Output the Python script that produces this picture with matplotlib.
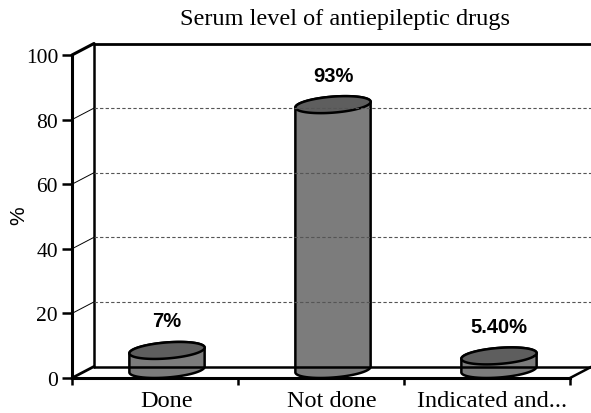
import numpy as np
import matplotlib
matplotlib.use("Agg")
import matplotlib.pyplot as plt
from matplotlib.patches import Polygon

# ---- data ----
categories = ["Done", "Not done", "Indicated and..."]
bar_heights = [5.9, 82.0, 4.2]          # heights as drawn against the y axis
value_labels = ["7%", "93%", "5.40%"]
yticks = [0, 20, 40, 60, 80, 100]
title = "Serum level of antiepileptic drugs"
ylabel = "%"

W, H = 591, 414
fig = plt.figure(figsize=(W / 100, H / 100), dpi=100)
ax = fig.add_axes([72 / W, (H - 379) / H, 498 / W, 323 / H])
ax.set_xlim(0, 3)
ax.set_ylim(0, 100)

XPX = 498 / 3.0      # px per category
YPX = 323 / 100.0    # px per y unit
DX = 22 / XPX        # depth offset
DY = 11.5 / YPX

# spines / ticks
for s in ("top", "right"):
    ax.spines[s].set_visible(False)
ax.spines["left"].set_linewidth(2.2)
ax.spines["bottom"].set_linewidth(2.2)
ax.set_yticks(yticks)
ax.set_yticklabels([str(v) for v in yticks], fontsize=15.5, family="Liberation Serif")
ax.tick_params(axis="y", direction="out", length=7, width=1.8, pad=3)
ax.set_xticks([0, 1, 2, 3])
ax.set_xticklabels([])
ax.tick_params(axis="x", direction="out", length=5, width=1.8)
ax.patch.set_visible(False)

lk = dict(color="black", clip_on=False, solid_capstyle="round")
# left side wall
ax.plot([DX, DX], [DY, 100 + DY], lw=1.8, **lk)
ax.plot([0, DX], [100, 100 + DY], lw=2.2, **lk)
ax.plot([0, DX], [0, DY], lw=2.0, **lk)
# back wall top
ax.plot([DX, 3 + DX + 3 / XPX], [100 + DY, 100 + DY], lw=2.0, **lk)
# floor
ax.plot([DX, 3 + DX], [DY, DY], lw=1.8, **lk)
ax.plot([3, 3 + DX], [0, DY], lw=1.8, **lk)

# gridlines on back wall + diagonals on side wall
for v in yticks[1:-1]:
    ax.plot([DX, 3 + DX + 3 / XPX], [v + DY, v + DY], color="#555555", lw=0.8,
            linestyle=(0, (3, 2)), clip_on=False)
    ax.plot([0, DX], [v, v + DY], color="black", lw=0.7, clip_on=False)

# cylinders
a_px, bx_px, by_px = 35.5, 12.5, 8.5
t0 = np.arctan2(bx_px, a_px)
base_y = by_px / YPX
body_col = "#7c7c7c"
top_col = "#5e5e5e"


def ell(cx, cy, t):
    return np.column_stack([cx + (a_px * np.cos(t) + bx_px * np.sin(t)) / XPX,
                            cy + (by_px * np.sin(t)) / YPX])


for i, (h, lab) in enumerate(zip(bar_heights, value_labels)):
    cx = i + 0.5 + 12 / XPX
    ytop = base_y + h
    front = ell(cx, base_y, np.linspace(t0 + np.pi, t0 + 2 * np.pi, 80))
    back_top = ell(cx, ytop, np.linspace(t0, t0 + np.pi, 80))
    body = np.vstack([front, back_top])
    ax.add_patch(Polygon(body, closed=True, facecolor=body_col, edgecolor="black",
                         lw=1.8, clip_on=False, joinstyle="round"))
    top = ell(cx, ytop, np.linspace(0, 2 * np.pi, 160))
    ax.add_patch(Polygon(top, closed=True, facecolor=top_col, edgecolor="black",
                         lw=1.8, clip_on=False))
    ax.text(cx, ytop + 29.5 / YPX, lab, ha="center", va="center", fontsize=14.5,
            fontweight="bold", family="Liberation Sans")

# category labels
cat_y = -(407.5 - 379) / YPX
ax.text(0.5 + 12 / XPX, cat_y, categories[0], ha="center", va="baseline",
        fontsize=17.5, family="Liberation Serif")
ax.text(1.5 + 11 / XPX, cat_y, categories[1], ha="center", va="baseline",
        fontsize=17.5, family="Liberation Serif")
ax.text(3 - 3 / XPX, cat_y, categories[2], ha="right", va="baseline",
        fontsize=17.5, family="Liberation Serif")

fig.text(345 / W, 1 - 20 / H, title, ha="center", va="center", fontsize=17.5,
         family="Liberation Serif")
fig.text(19 / W, 1 - 216 / H, ylabel, ha="center", va="center", rotation=90,
         fontsize=15, family="Liberation Sans")

fig.savefig("out.png", dpi=100)
